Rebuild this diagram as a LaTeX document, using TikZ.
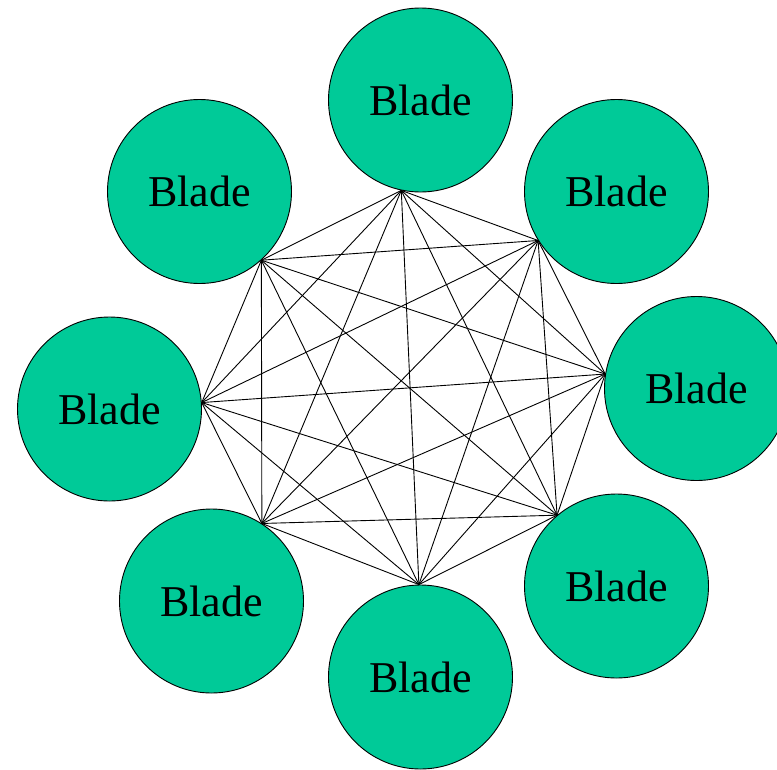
\documentclass[tikz,border=0pt]{standalone}
\usepackage{fontspec}
\setmainfont{Liberation Serif}
\definecolor{bladegreen}{RGB}{0,202,152}
\begin{document}
\begin{tikzpicture}[x=1pt,y=-1pt,
  blade/.style={circle,draw=black,line width=0.9pt,fill=bladegreen,minimum size=184pt,inner sep=0pt,
    font=\fontsize{44}{50}\selectfont},
  link/.style={draw=black,line width=0.9pt}]
\useasboundingbox (0,0) rectangle (777,769);
\node[blade] (b1) at (420.5,100) {Blade};
\node[blade] (b2) at (616.5,191.5) {Blade};
\node[blade] (b3) at (696.5,388.5) {Blade};
\node[blade] (b4) at (616.5,586) {Blade};
\node[blade] (b5) at (420.5,677) {Blade};
\node[blade] (b6) at (211.5,601) {Blade};
\node[blade] (b7) at (109.5,409) {Blade};
\node[blade] (b8) at (199.5,191.5) {Blade};
\coordinate (p1) at (b1.258.6);
\coordinate (p2) at (b2.212.8);
\coordinate (p3) at (b3.171.6);
\coordinate (p4) at (b4.130.7);
\coordinate (p5) at (b5.91.6);
\coordinate (p6) at (b6.57.1);
\coordinate (p7) at (b7.4.9);
\coordinate (p8) at (b8.-48.5);
\foreach \i [evaluate=\i as \k using int(\i+1)] in {1,...,7} {
  \foreach \j in {\k,...,8} {
    \draw[link] (p\i) -- (p\j);
  }
}
\end{tikzpicture}
\end{document}
